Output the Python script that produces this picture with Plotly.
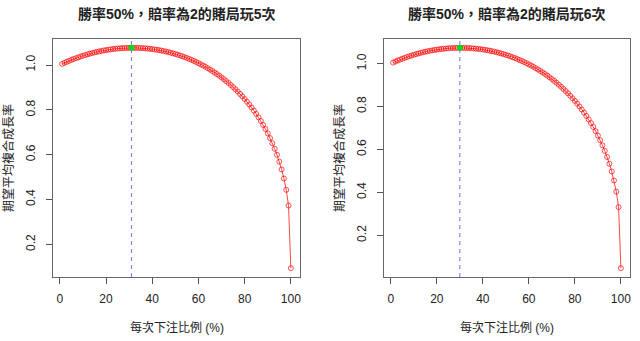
import plotly.graph_objects as go

# bet fraction (%) on each round
bet_pct = list(range(1, 101))

# expected average compound growth rate, 5 rounds
growth_5 = [1.0049,1.0096,1.0142,1.0186,1.0228,1.0268,1.0307,1.0344,1.038,1.0414,
            1.0446,1.0477,1.0506,1.0533,1.0559,1.0584,1.0607,1.0628,1.0648,1.0666,
            1.0683,1.0698,1.0712,1.0724,1.0735,1.0744,1.0751,1.0758,1.0762,1.0765,
            1.0767,1.0767,1.0765,1.0762,1.0757,1.0751,1.0743,1.0734,1.0723,1.071,
            1.0696,1.068,1.0662,1.0643,1.0622,1.0599,1.0575,1.0548,1.052,1.0491,
            1.0459,1.0425,1.039,1.0352,1.0313,1.0271,1.0228,1.0182,1.0134,1.0084,
            1.0032,0.9977,0.992,0.9861,0.9798,0.9734,0.9666,0.9596,0.9523,0.9447,
            0.9367,0.9285,0.9199,0.9109,0.9016,0.8918,0.8817,0.8711,0.8601,0.8485,
            0.8364,0.8238,0.8105,0.7966,0.782,0.7666,0.7502,0.733,0.7146,0.695,
            0.6739,0.6512,0.6264,0.5992,0.5688,0.5342,0.4936,0.4433,0.3732,0.0938]

# expected average compound growth rate, 6 rounds
growth_6 = [1.0049,1.0096,1.0142,1.0185,1.0227,1.0267,1.0305,1.0342,1.0377,1.041,
            1.0442,1.0472,1.05,1.0527,1.0551,1.0575,1.0597,1.0617,1.0635,1.0652,
            1.0668,1.0681,1.0694,1.0704,1.0713,1.0721,1.0727,1.0731,1.0734,1.0735,
            1.0734,1.0732,1.0728,1.0723,1.0716,1.0707,1.0697,1.0685,1.0672,1.0657,
            1.064,1.0621,1.0601,1.0578,1.0555,1.0529,1.0501,1.0472,1.0441,1.0408,
            1.0373,1.0336,1.0297,1.0255,1.0212,1.0167,1.012,1.007,1.0018,0.9964,
            0.9908,0.9849,0.9788,0.9724,0.9657,0.9588,0.9515,0.944,0.9362,0.9281,
            0.9197,0.9109,0.9017,0.8922,0.8823,0.872,0.8613,0.8501,0.8384,0.8262,
            0.8134,0.8001,0.7862,0.7715,0.7561,0.7399,0.7228,0.7047,0.6855,0.6649,
            0.6429,0.6192,0.5934,0.565,0.5335,0.4976,0.4555,0.4035,0.3314,0.0469]

titles = ["勝率50%，賠率為2的賭局玩5次", "勝率50%，賠率為2的賭局玩6次"]
x_title = "每次下注比例 (%)"
y_title = "期望平均複合成長率"
x_ticks = [0, 20, 40, 60, 80, 100]
y_ticks = [0.2, 0.4, 0.6, 0.8, 1.0]

FONT = "Liberation Sans, Arial, Noto Sans CJK TC, sans-serif"
panels = [growth_5, growth_6]
x_domains = [[53 / 640, 300 / 640], [384 / 640, 630 / 640]]
y_domain = [1 - 277 / 341, 1 - 39 / 341]

fig = go.Figure()
layout = dict(
    width=640, height=341,
    margin=dict(l=0, r=0, t=0, b=0),
    paper_bgcolor="white", plot_bgcolor="white",
    showlegend=False,
    font=dict(family=FONT, size=12, color="#222"),
)
shapes = []
annotations = []

def rng(vals):
    lo, hi = min(vals), max(vals)
    pad = 0.04 * (hi - lo)
    return [lo - pad, hi + pad]

for i, ys in enumerate(panels):
    xa = "x" if i == 0 else "x2"
    ya = "y" if i == 0 else "y2"
    k = max(range(len(ys)), key=lambda j: ys[j])
    best_x = bet_pct[k]
    shapes.append(dict(
        type="line", xref=xa, yref=ya + " domain", x0=best_x, x1=best_x, y0=0, y1=1,
        line=dict(color="#7070FF", width=1, dash="4px,4px"), layer="above",
    ))
    fig.add_trace(go.Scatter(
        x=bet_pct, y=ys, xaxis=xa, yaxis=ya, mode="lines+markers",
        line=dict(color="rgba(255,0,0,0.8)", width=0.9),
        marker=dict(symbol="circle-open", size=5, color="rgba(255,0,0,0.85)",
                    line=dict(width=0.8, color="rgba(255,0,0,0.85)")),
        hoverinfo="skip",
    ))
    fig.add_trace(go.Scatter(
        x=[best_x], y=[ys[k]], xaxis=xa, yaxis=ya, mode="markers",
        marker=dict(symbol="circle", size=6, color="#00DD00"),
        hoverinfo="skip",
    ))
    axis_common = dict(
        showgrid=False, zeroline=False, showline=True, mirror=True,
        linecolor="#666", linewidth=1, ticks="outside", ticklen=6, tickwidth=1,
        tickcolor="#555", tickfont=dict(family=FONT, size=12, color="#222"),
    )
    xkey = "xaxis" if i == 0 else "xaxis2"
    ykey = "yaxis" if i == 0 else "yaxis2"
    layout[xkey] = dict(axis_common, domain=x_domains[i], anchor=ya,
                        range=rng(bet_pct), tickvals=x_ticks, ticklabelstandoff=5)
    layout[ykey] = dict(axis_common, domain=y_domain, anchor=xa,
                        range=rng(ys), tickvals=y_ticks, tickangle=-90,
                        tickformat=".1f", ticklabelstandoff=6)
    cx = (x_domains[i][0] + x_domains[i][1]) / 2
    annotations.append(dict(
        text="<b>" + titles[i] + "</b>", xref="paper", yref="paper",
        x=cx, y=1 - 14 / 341, xanchor="center", yanchor="middle", showarrow=False,
        font=dict(family=FONT, size=14, color="#222"),
    ))
    annotations.append(dict(
        text=x_title, xref="paper", yref="paper",
        x=cx, y=1 - 327 / 341, xanchor="center", yanchor="middle", showarrow=False,
        font=dict(family=FONT, size=12, color="#222"),
    ))
    annotations.append(dict(
        text=y_title, xref="paper", yref="paper", textangle=-90,
        x=(x_domains[i][0] * 640 - 45) / 640, y=(y_domain[0] + y_domain[1]) / 2,
        xanchor="center", yanchor="middle", showarrow=False,
        font=dict(family=FONT, size=12, color="#222"),
    ))

layout["shapes"] = shapes
layout["annotations"] = annotations
fig.update_layout(**layout)
fig.write_html("out.html")
